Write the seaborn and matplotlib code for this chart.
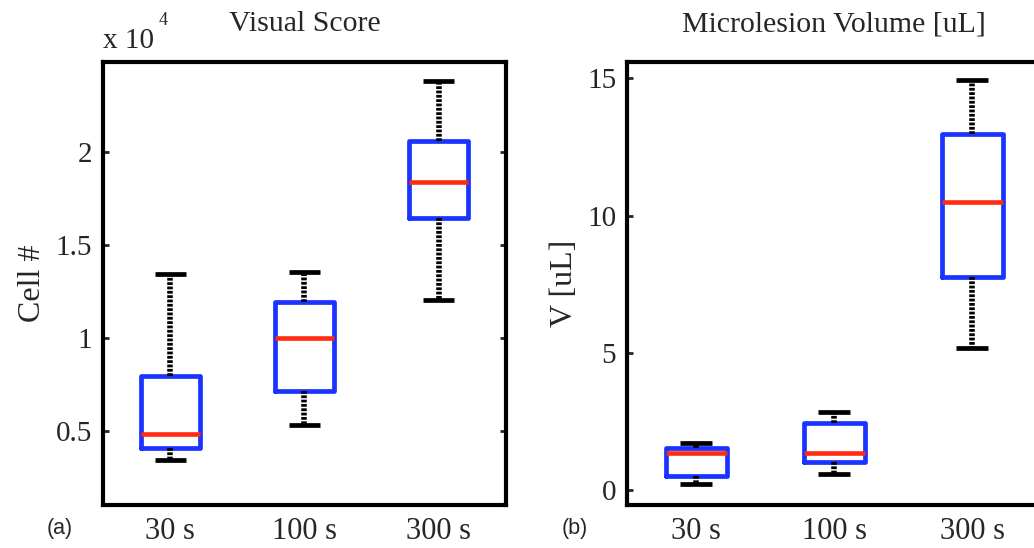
import numpy as np
import pandas as pd
import matplotlib
matplotlib.use("Agg")
import matplotlib.pyplot as plt
from matplotlib.ticker import FuncFormatter
import seaborn as sns

# ---- data (five-number summaries: low whisker, Q1, median, Q3, high whisker)
groups = ["30 s", "100 s", "300 s"]
cell_30 = [3400, 4060, 4830, 7910, 13420]
cell_100 = [5280, 7120, 9980, 11920, 13510]
cell_300 = [12010, 16420, 18390, 20580, 23800]
vol_30 = [0.22, 0.52, 1.36, 1.51, 1.72]
vol_100 = [0.57, 1.00, 1.36, 2.43, 2.85]
vol_300 = [5.19, 7.77, 10.51, 12.97, 14.96]
cell_ticks = [5000, 10000, 15000, 20000]
vol_ticks = [0, 5, 10, 15]

sns.set_style("white")
plt.rcParams["font.family"] = ["Liberation Serif", "DejaVu Serif"]

BLUE = "#1a33ff"
RED = "#ff2a10"

def make_df(a, b, c):
    rows = []
    for g, vals in zip(groups, [a, b, c]):
        for v in vals:
            rows.append({"group": g, "value": v})
    return pd.DataFrame(rows)

df_cell = make_df(cell_30, cell_100, cell_300)
df_vol = make_df(vol_30, vol_100, vol_300)

fig = plt.figure(figsize=(10.34, 5.48), dpi=100)
ax1 = fig.add_axes([0.0996, 0.0785, 0.3897, 0.8084])
ax2 = fig.add_axes([0.6067, 0.0785, 0.4004, 0.8084])

box_kw = dict(
    x="group", y="value", order=groups, whis=(0, 100), width=0.44,
    fill=False, showfliers=False,
    boxprops=dict(color=BLUE, linewidth=3.4),
    medianprops=dict(color=RED, linewidth=3.3),
    whiskerprops=dict(color="black", linewidth=4.0, linestyle=(0, (0.5, 0.28))),
    capprops=dict(color="black", linewidth=3.4, solid_capstyle="butt"),
    capwidths=0.23,
)

for ax, df, ticks, ylim, title, ylabel in [
    (ax1, df_cell, cell_ticks, (1000, 24820), "Visual Score", "Cell #"),
    (ax2, df_vol, vol_ticks, (-0.55, 15.6), "Microlesion Volume [uL]", "V [uL]"),
]:
    sns.boxplot(data=df, ax=ax, **box_kw)
    ax.set_xlim(-0.5, 2.5)
    ax.set_ylim(*ylim)
    ax.set_yticks(ticks)
    ax.set_title(title, fontsize=21.5, pad=22)
    ax.set_ylabel(ylabel, fontsize=23, labelpad=6)
    ax.set_xlabel("")
    for s in ax.spines.values():
        s.set_visible(True)
        s.set_linewidth(3)
        s.set_color("black")
    ax.tick_params(axis="y", direction="in", length=4, width=2, left=True, right=True,
                   labelsize=21, pad=8)
    ax.tick_params(axis="x", length=0, labelsize=22, pad=9)

ax1.yaxis.set_major_formatter(FuncFormatter(lambda v, p: "%g" % (v / 1e4)))

fig.text(0.0996, 0.912, "x 10", fontsize=21, ha="left", va="baseline")
fig.text(0.153, 0.954, "4", fontsize=13, ha="left", va="baseline")

fig.text(0.045, 0.025, "(a)", fontsize=15.5, family=["Liberation Sans", "DejaVu Sans"], va="baseline")
fig.text(0.543, 0.025, "(b)", fontsize=15.5, family=["Liberation Sans", "DejaVu Sans"], va="baseline")

fig.savefig("out.png", dpi=100)
